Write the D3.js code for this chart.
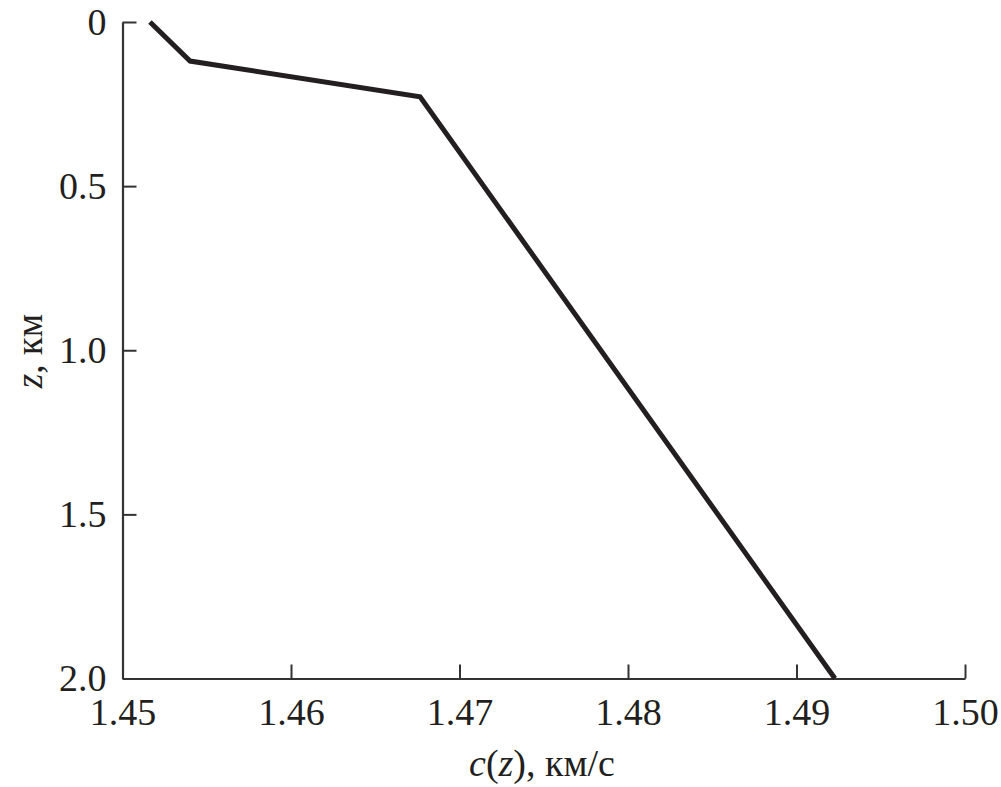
<!DOCTYPE html>
<html><head><meta charset="utf-8">
<script src="https://cdn.jsdelivr.net/npm/d3@7"></script>
<style>body{margin:0;background:#fff}svg{display:block}text{font-family:"Liberation Serif","DejaVu Serif",serif;fill:#231f20}</style>
</head><body>
<script>
const speed = [1.45163, 1.45401, 1.46766, 1.49228];
const depth = [0, 0.119, 0.228, 2.0];
const xTicks = [1.45, 1.46, 1.47, 1.48, 1.49, 1.50];
const yTicks = [0, 0.5, 1.0, 1.5, 2.0];
const xTickLabels = ["1.45","1.46","1.47","1.48","1.49","1.50"];
const yTickLabels = ["0","0.5","1.0","1.5","2.0"];

const W = 1001, H = 787;
const svg = d3.select("body").append("svg").attr("width", W).attr("height", H);
const x = d3.scaleLinear().domain([1.45, 1.50]).range([122.5, 965]);
const y = d3.scaleLinear().domain([0, 2.0]).range([22, 678.5]);
const axisColor = "#333";

// x axis
const gx = svg.append("g").attr("transform", `translate(0,${y(2.0)})`)
  .call(d3.axisBottom(x).tickValues(xTicks).tickSizeInner(-14).tickSizeOuter(0).tickPadding(20)
    .tickFormat((d,i)=>xTickLabels[i]));
gx.select(".domain").attr("stroke", axisColor).attr("stroke-width", 2.2);
gx.selectAll(".tick line").attr("stroke", axisColor).attr("stroke-width", 2);
gx.selectAll(".tick text").attr("font-size", 38).attr("fill", "#231f20").attr("font-family", "Liberation Serif");

// y axis
const gy = svg.append("g").attr("transform", `translate(${x(1.45)},0)`)
  .call(d3.axisLeft(y).tickValues(yTicks).tickSizeInner(-14).tickSizeOuter(0).tickPadding(16)
    .tickFormat((d,i)=>yTickLabels[i]));
gy.select(".domain").attr("stroke", axisColor).attr("stroke-width", 2.2);
gy.selectAll(".tick line").attr("stroke", axisColor).attr("stroke-width", 2);
gy.selectAll(".tick text").attr("font-size", 38).attr("fill", "#231f20").attr("font-family", "Liberation Serif");

// line
const pts = speed.map((c,i)=>[c, depth[i]]);
svg.append("path").datum(pts)
  .attr("d", d3.line().x(d=>x(d[0])).y(d=>y(d[1])))
  .attr("fill","none").attr("stroke","#231f20").attr("stroke-width",5).attr("stroke-linejoin","miter");

// x title
const xt = svg.append("text").attr("x", 542).attr("y", 776).attr("text-anchor","middle").attr("font-size", 38);
xt.append("tspan").attr("font-style","italic").text("c");
xt.append("tspan").text("(");
xt.append("tspan").attr("font-style","italic").text("z");
xt.append("tspan").text("), км/с");

// y title
const yt = svg.append("text").attr("transform","translate(42,351) rotate(-90)").attr("text-anchor","middle").attr("font-size", 37);
yt.append("tspan").attr("font-style","italic").text("z");
yt.append("tspan").text(", км");
</script>
</body></html>
